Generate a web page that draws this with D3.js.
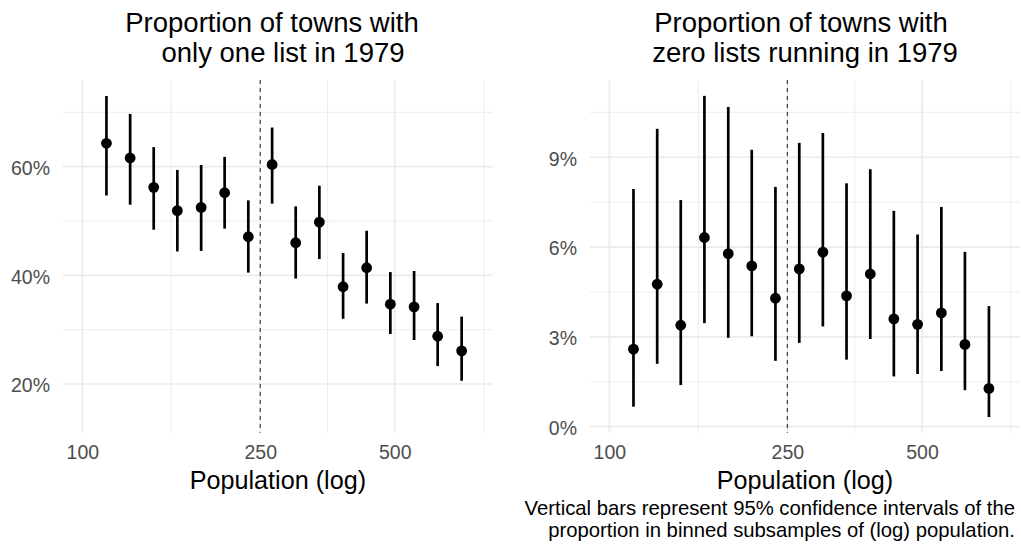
<!DOCTYPE html>
<html>
<head>
<meta charset="utf-8">
<script src="https://cdn.jsdelivr.net/npm/d3@7"></script>
<style>
  body { margin: 0; background: #fff; }
  text { font-family: "Liberation Sans", Arial, sans-serif; }
</style>
</head>
<body>
<div id="chart"></div>
<script>
// binned population (bin centres, log scale) – same bins in both panels
var population = [113.2, 127.9, 144.4, 163.1, 184.4, 208.1, 235.1, 265.8, 300.1, 339.0, 383.1, 432.5, 488.7, 552.3, 623.6, 705.6];

// share of towns with only one list in 1979
var oneListEst  = [0.643, 0.616, 0.562, 0.519, 0.525, 0.552, 0.471, 0.604, 0.460, 0.498, 0.379, 0.414, 0.347, 0.342, 0.288, 0.261];
var oneListLow  = [0.547, 0.530, 0.484, 0.444, 0.445, 0.486, 0.405, 0.532, 0.394, 0.430, 0.320, 0.348, 0.292, 0.281, 0.233, 0.206];
var oneListHigh = [0.730, 0.697, 0.636, 0.594, 0.603, 0.618, 0.538, 0.672, 0.527, 0.565, 0.441, 0.482, 0.406, 0.408, 0.349, 0.324];

// share of towns with zero lists running in 1979
var zeroListEst  = [0.0259, 0.0476, 0.0339, 0.0632, 0.0578, 0.0537, 0.0429, 0.0527, 0.0583, 0.0437, 0.0510, 0.0360, 0.0342, 0.0380, 0.0275, 0.0128];
var zeroListLow  = [0.0067, 0.0210, 0.0139, 0.0346, 0.0297, 0.0302, 0.0220, 0.0280, 0.0335, 0.0224, 0.0293, 0.0168, 0.0176, 0.0186, 0.0122, 0.0032];
var zeroListHigh = [0.0794, 0.0995, 0.0757, 0.1105, 0.1068, 0.0925, 0.0801, 0.0948, 0.0981, 0.0813, 0.0860, 0.0721, 0.0642, 0.0734, 0.0584, 0.0403];

var threshold = 250;

var xBreaks = [100, 250, 500];
var xMinorBreaks = [158.1, 353.6, 790.6];
var oneListBreaks = [0.2, 0.4, 0.6];
var oneListMinor = [0.3, 0.5, 0.7];
var zeroListBreaks = [0, 0.03, 0.06, 0.09];
var zeroListMinor = [0.015, 0.045, 0.075, 0.105];

var width = 1021, height = 548;

var svg = d3.select("#chart")
    .append("svg")
    .attr("width", width)
    .attr("height", height);

function drawPanel(opts) {
    var top = 80, bottom = 432.7;

    var x = d3.scaleLog()
        .domain([90.5, 828])
        .range([opts.left, opts.right]);

    var y = d3.scaleLinear()
        .domain(opts.yDomain)
        .range([bottom, top]);

    var g = svg.append("g");

    // grid lines (minor first, then major)
    g.selectAll(".xminor").data(xMinorBreaks).enter().append("line")
        .attr("x1", function(d) { return x(d); })
        .attr("x2", function(d) { return x(d); })
        .attr("y1", top).attr("y2", bottom)
        .attr("stroke", "#ebebeb").attr("stroke-width", 0.9);
    g.selectAll(".yminor").data(opts.yMinor).enter().append("line")
        .attr("x1", opts.left).attr("x2", opts.right)
        .attr("y1", function(d) { return y(d); })
        .attr("y2", function(d) { return y(d); })
        .attr("stroke", "#ebebeb").attr("stroke-width", 0.9);
    g.selectAll(".xmajor").data(xBreaks).enter().append("line")
        .attr("x1", function(d) { return x(d); })
        .attr("x2", function(d) { return x(d); })
        .attr("y1", top).attr("y2", bottom)
        .attr("stroke", "#ebebeb").attr("stroke-width", 1.7);
    g.selectAll(".ymajor").data(opts.yBreaks).enter().append("line")
        .attr("x1", opts.left).attr("x2", opts.right)
        .attr("y1", function(d) { return y(d); })
        .attr("y2", function(d) { return y(d); })
        .attr("stroke", "#ebebeb").attr("stroke-width", 1.7);

    // x axis
    var xAxis = g.append("g")
        .attr("transform", "translate(0," + bottom + ")")
        .call(d3.axisBottom(x).tickValues(xBreaks).tickSize(0).tickFormat(d3.format("d")));
    xAxis.select(".domain").remove();
    xAxis.selectAll("text")
        .attr("y", 26.8)
        .attr("dy", null)
        .attr("fill", "#4d4d4d")
        .style("font-size", "19.5px");

    // y axis
    var yAxis = g.append("g")
        .attr("transform", "translate(" + opts.left + ",0)")
        .call(d3.axisLeft(y).tickValues(opts.yBreaks).tickSize(0).tickPadding(13).tickFormat(d3.format(".0%")));
    yAxis.select(".domain").remove();
    yAxis.selectAll("text")
        .attr("dy", "0.4em")
        .attr("fill", "#4d4d4d")
        .style("font-size", "19.5px");

    // cutoff at 250 inhabitants
    g.append("line")
        .attr("x1", x(threshold)).attr("x2", x(threshold))
        .attr("y1", top).attr("y2", bottom)
        .attr("stroke", "#333")
        .attr("stroke-width", 1.1)
        .attr("stroke-dasharray", "4,4");

    // confidence intervals
    g.selectAll(".ci").data(population).enter().append("line")
        .attr("x1", function(d) { return x(d); })
        .attr("x2", function(d) { return x(d); })
        .attr("y1", function(d, i) { return y(opts.low[i]); })
        .attr("y2", function(d, i) { return y(opts.high[i]); })
        .attr("stroke", "#000")
        .attr("stroke-width", 2.7);

    // point estimates
    g.selectAll(".pt").data(population).enter().append("circle")
        .attr("cx", function(d) { return x(d); })
        .attr("cy", function(d, i) { return y(opts.est[i]); })
        .attr("r", 5.4)
        .attr("fill", "#000");

    // title
    var cx = (opts.left + opts.right) / 2;
    svg.append("text")
        .attr("x", opts.titleX[0]).attr("y", 32)
        .attr("text-anchor", "middle")
        .style("font-size", "27.5px")
        .text(opts.title[0]);
    svg.append("text")
        .attr("x", opts.titleX[1]).attr("y", 62)
        .attr("text-anchor", "middle")
        .style("font-size", "27.5px")
        .text(opts.title[1]);

    // x axis title
    svg.append("text")
        .attr("x", cx).attr("y", 488.5)
        .attr("text-anchor", "middle")
        .style("font-size", "25.2px")
        .text("Population (log)");
}

drawPanel({
    left: 63, right: 492.7,
    yDomain: [0.1104, 0.7595],
    yBreaks: oneListBreaks, yMinor: oneListMinor,
    est: oneListEst, low: oneListLow, high: oneListHigh,
    title: ["Proportion of towns with", "only one list in 1979"],
    titleX: [272, 283]
});

drawPanel({
    left: 590, right: 1020,
    yDomain: [-0.002, 0.1158],
    yBreaks: zeroListBreaks, yMinor: zeroListMinor,
    est: zeroListEst, low: zeroListLow, high: zeroListHigh,
    title: ["Proportion of towns with", "zero lists running in 1979"],
    titleX: [801, 805]
});

// caption
svg.append("text")
    .attr("x", 1015).attr("y", 515)
    .attr("text-anchor", "end")
    .style("font-size", "20.3px")
    .text("Vertical bars represent 95% confidence intervals of the");
svg.append("text")
    .attr("x", 1015).attr("y", 536.7)
    .attr("text-anchor", "end")
    .style("font-size", "20.3px")
    .text("proportion in binned subsamples of (log) population.");
</script>
</body>
</html>
